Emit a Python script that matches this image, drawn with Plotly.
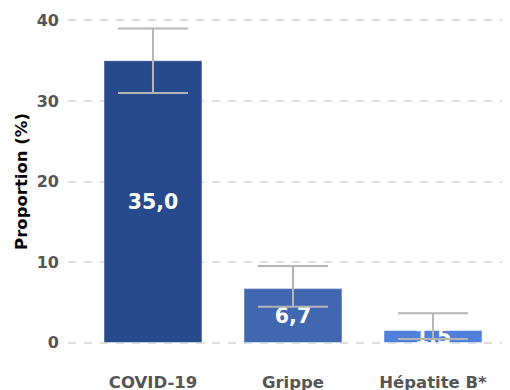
import plotly.graph_objects as go

categories = ["COVID-19", "Grippe", "Hépatite B*"]
values = [35.0, 6.7, 1.5]
err_low = [31.0, 4.45, 0.45]
err_high = [39.0, 9.5, 3.65]
labels = ["35,0", "6,7", "1,5"]
colors = ["#264a8b", "#4067b0", "#4e7fdb"]
y_ticks = [0, 10, 20, 30, 40]

arr_plus = [h - v for h, v in zip(err_high, values)]
arr_minus = [v - l for l, v in zip(err_low, values)]

fig = go.Figure()
fig.add_trace(go.Bar(
    x=categories, y=values,
    marker=dict(color=colors, line=dict(color="rgba(255,255,255,0.5)", width=1)),
    width=0.7,
    text=labels, textposition="inside", insidetextanchor="middle",
    textfont=dict(family="DejaVu Sans", size=20.5, color="white", weight="bold"),
    textangle=0,
    error_y=dict(type="data", symmetric=False, array=arr_plus, arrayminus=arr_minus,
                 color="#b5b5b5", thickness=2, width=35),
    hoverinfo="skip",
))

# page body has an 8px default margin, so the figure is sized 502x382
fig.update_layout(
    width=502, height=382,
    margin=dict(l=60, r=0, t=9.6, b=44.6),
    paper_bgcolor="white", plot_bgcolor="white",
    showlegend=False,
    font=dict(family="DejaVu Sans"),
    uniformtext=dict(minsize=10, mode="show"),
)
fig.update_xaxes(
    range=[-0.607, 2.55], showgrid=False, zeroline=False, showline=False,
    automargin=False, ticks="", ticklabelstandoff=25,
    tickfont=dict(family="DejaVu Sans", size=16.5, color="#555555", weight="bold"),
)
fig.update_yaxes(
    range=[-0.3, 40.3], tickvals=y_ticks, ticktext=[str(t) for t in y_ticks],
    showgrid=True, gridcolor="#dddddd", gridwidth=2, griddash="8px,8px",
    zeroline=False, showline=False, ticks="", automargin=False,
    ticklabelstandoff=8,
    tickfont=dict(family="DejaVu Sans", size=16, color="#555555", weight="bold"),
    title=dict(text="Proportion (%)", standoff=4,
               font=dict(family="DejaVu Sans", size=16.5, color="black", weight="bold")),
)

fig.write_html("out.html")
